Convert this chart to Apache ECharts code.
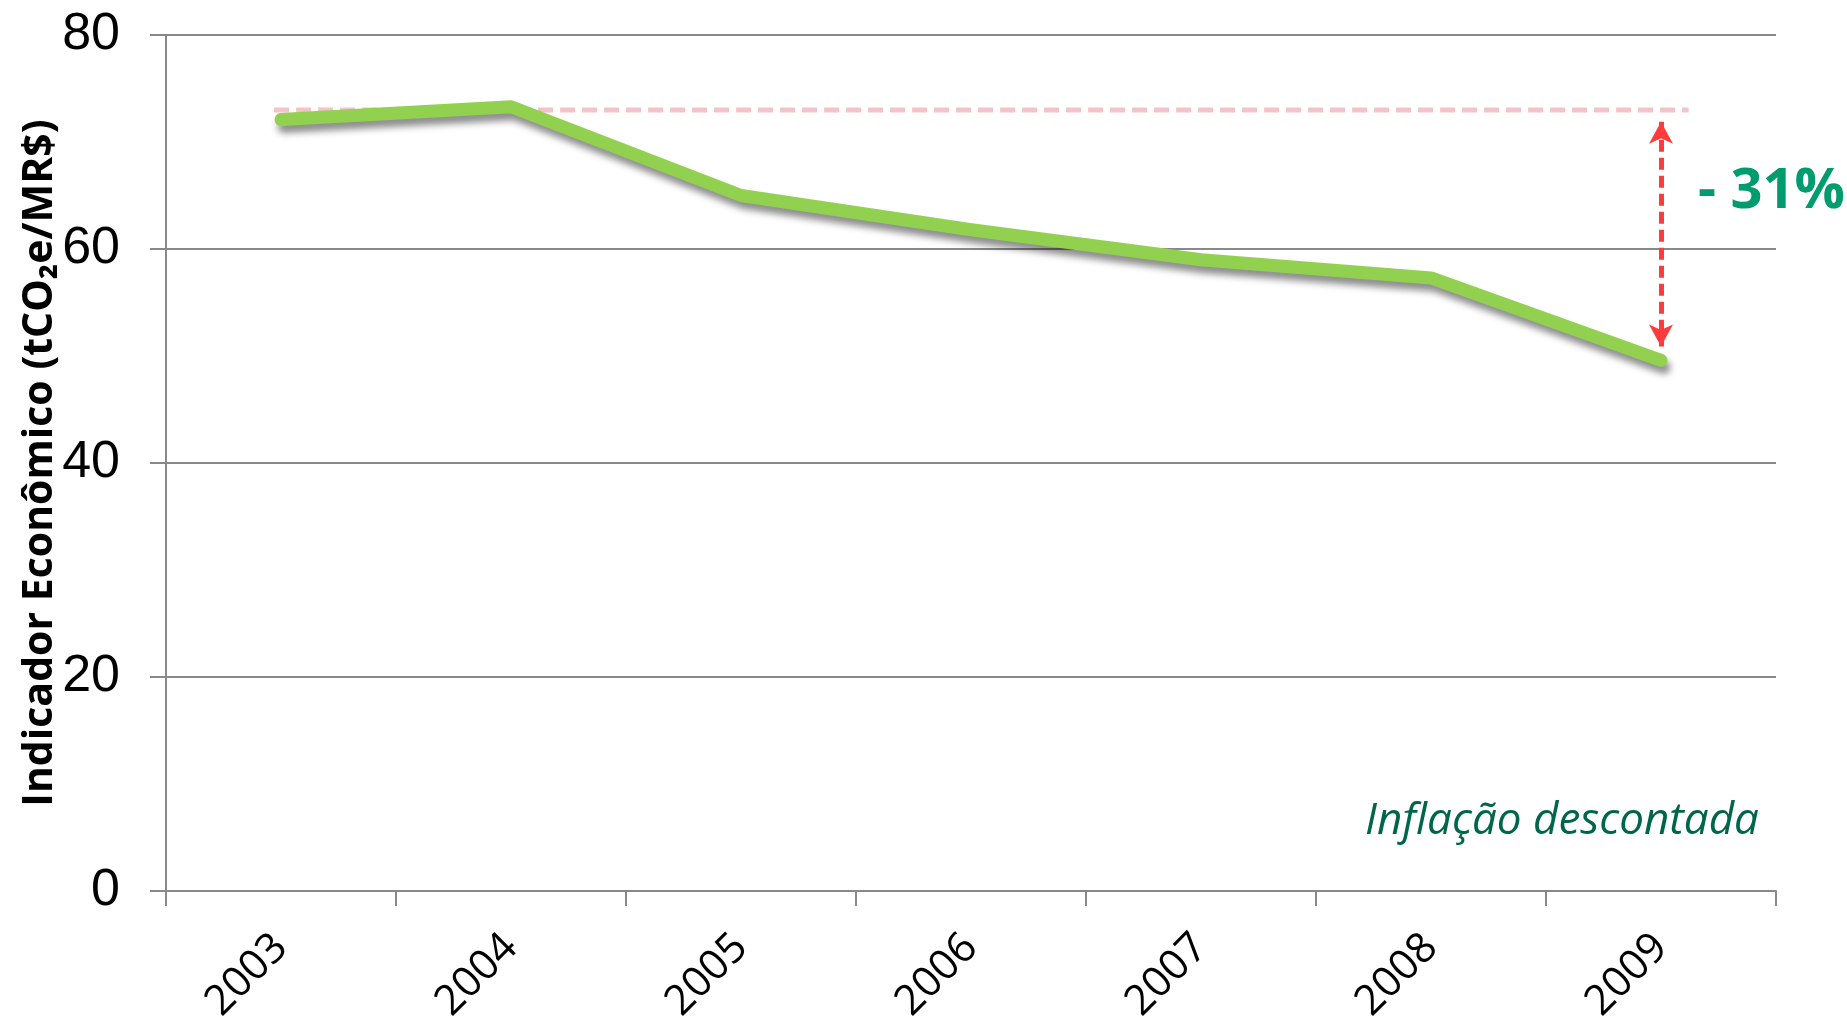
<!DOCTYPE html>
<html>
<head>
<meta charset="utf-8">
<script src="https://cdn.jsdelivr.net/npm/echarts@6/dist/echarts.min.js"></script>
<style>
html,body{margin:0;padding:0;background:#fff;}
#chart{width:1847px;height:1026px;}
</style>
</head>
<body>
<div id="chart"></div>
<script>
// ---- data ----
const years = ['2003','2004','2005','2006','2007','2008','2009'];
const indicator = [72.1, 73.3, 65.0, 61.8, 59.0, 57.3, 49.6];
const yTicks = [0, 20, 40, 60, 80];
// reference (2003 baseline) level and the span it covers on a 0..7 category scale
const refLevel = 73.0;
const refSpan = [0.47, 6.62];
// arrow showing the reduction (category position 6.5 = 2009)
const arrowX = 6.5;
const arrowRange = [71.9, 50.9];
const reductionLabel = '- 31%';
const noteLabel = 'Inflação descontada';
const yTitle = 'Indicador Econômico (tCO₂e/MR$)';

const chart = echarts.init(document.getElementById('chart'), null, {renderer:'canvas'});
const axisGray = '#898989';
const sans = "'Open Sans', 'Noto Sans', 'DejaVu Sans', sans-serif";

const option = {
  animation: false,
  backgroundColor: '#ffffff',
  grid: {left: 166, right: 71, top: 35, bottom: 132, containLabel: false},
  xAxis: [
    {
      type: 'category',
      data: years,
      boundaryGap: true,
      axisLine: {lineStyle: {color: axisGray, width: 2}},
      axisTick: {show: true, length: 15, lineStyle: {color: axisGray, width: 2}},
      axisLabel: {rotate: 45, margin: 50, fontSize: 42, color: '#000', fontFamily: sans}
    },
    {
      type: 'value', min: 0, max: 7, show: false
    }
  ],
  yAxis: {
    type: 'value',
    min: yTicks[0], max: yTicks[yTicks.length-1], interval: 20,
    name: yTitle,
    nameLocation: 'middle',
    nameGap: 105,
    nameMoveOverlap: false,
    nameRotate: 90,
    nameTextStyle: {fontSize: 41, fontWeight: 'bold', color: '#000', fontFamily: sans},
    axisLine: {show: true, lineStyle: {color: axisGray, width: 2}},
    axisTick: {show: true, length: 16, lineStyle: {color: axisGray, width: 2}},
    axisLabel: {margin: 46, fontSize: 52, color: '#000', fontFamily: "'Liberation Sans Narrow', 'Liberation Sans', Arial, sans-serif"},
    splitLine: {show: true, lineStyle: {color: axisGray, width: 2}}
  },
  series: [
    {
      type: 'line',
      xAxisIndex: 1,
      data: [[refSpan[0], refLevel], [refSpan[1], refLevel]],
      symbol: 'none',
      lineStyle: {color: '#f4c3c9', width: 5, type: [15, 7]},
      z: 2
    },
    {
      type: 'line',
      xAxisIndex: 0,
      data: indicator,
      symbol: 'none',
      lineStyle: {
        color: '#92d050', width: 13, cap: 'round', join: 'round',
        shadowColor: 'rgba(0,0,0,0.45)', shadowBlur: 7, shadowOffsetX: 3, shadowOffsetY: 7
      },
      z: 3
    },
    {
      type: 'line',
      xAxisIndex: 1,
      data: [],
      symbol: 'none',
      markLine: {
        silent: true,
        symbol: ['arrow', 'arrow'],
        symbolSize: [18, 22],
        label: {show: false},
        lineStyle: {color: '#ff3b3b', width: 5, type: [12, 6]},
        data: [[{coord: [arrowX, arrowRange[0]]}, {coord: [arrowX, arrowRange[1]]}]]
      },
      z: 4
    }
  ],
  graphic: [
    {
      type: 'text',
      left: 1698, top: 164,
      style: {text: reductionLabel, font: "bold 56px " + sans, fill: '#009b6f'}
    },
    {
      type: 'text',
      right: 88, top: 799,
      style: {text: noteLabel, font: "italic 44px " + sans, fill: '#00664a'}
    }
  ]
};
chart.setOption(option);
</script>
</body>
</html>
